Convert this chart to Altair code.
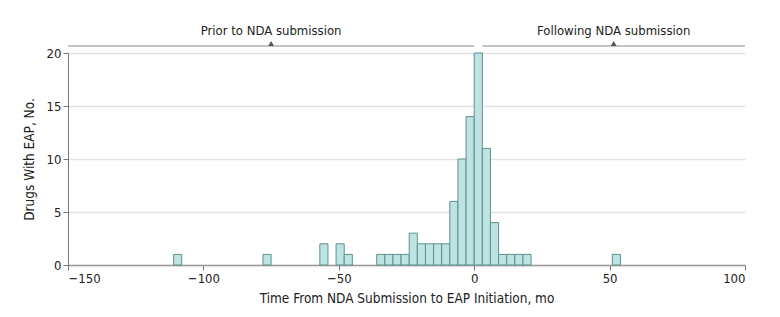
import altair as alt
import pandas as pd

# Histogram bins (3-month width): start of each bin and count of drugs
bin_start = [-111, -78, -57, -51, -48, -36, -33, -30, -27, -24, -21, -18, -15, -12,
             -9, -6, -3, 0, 3, 6, 9, 12, 15, 18, 51]
counts = [1, 1, 2, 2, 1, 1, 1, 1, 1, 3, 2, 2, 2, 2,
          6, 10, 14, 20, 11, 4, 1, 1, 1, 1, 1]
bin_width = 3

# Bracket annotation
seg_start = [-150, 3]
seg_end = [0, 100]
seg_label = ["Prior to NDA submission", "Following NDA submission"]

x_ticks = [-150, -100, -50, 0, 50, 100]
y_ticks = [0, 5, 10, 15, 20]

FONT = "DejaVu Sans Condensed, Open Sans, Noto Sans, sans-serif"

bars = pd.DataFrame({
    "start": bin_start,
    "end": [s + bin_width for s in bin_start],
    "count": counts,
    "base": [0] * len(counts),
})
segs = pd.DataFrame({
    "start": seg_start,
    "end": seg_end,
    "mid": [(a + b) / 2 for a, b in zip(seg_start, seg_end)],
    "label": seg_label,
})

xscale = alt.Scale(domain=[-150, 100], nice=False, zero=False)
yscale = alt.Scale(domain=[0, 20], nice=False)

bar = alt.Chart(bars).mark_bar(
    color="#bde4e2", stroke="#5f8f8d", strokeWidth=1
).encode(
    x=alt.X("start:Q", scale=xscale,
            axis=alt.Axis(values=x_ticks, title="Time From NDA Submission to EAP Initiation, mo",
                          grid=False, domainColor="#9a9a9a", domainWidth=1.5,
                          tickColor="#777", tickSize=5, labelPadding=2,
                          labelColor="#222", titleColor="#222", titlePadding=6)),
    x2="end:Q",
    y=alt.Y("count:Q", scale=yscale,
            axis=alt.Axis(values=y_ticks, title="Drugs With EAP, No.",
                          grid=True, gridColor="#e2e2e2", gridWidth=1.5,
                          domainColor="#777", tickColor="#777", tickSize=5,
                          labelPadding=2, labelColor="#222", titleColor="#222",
                          titlePadding=10)),
    y2="base:Q",
)

rule = alt.Chart(segs).mark_rule(color="#8a8a8a", strokeWidth=1.2).encode(
    x=alt.X("start:Q", scale=xscale),
    x2="end:Q",
    y=alt.value(-7),
)

tri = alt.Chart(segs).mark_point(
    shape="triangle-up", filled=True, color="#555", size=35, opacity=1
).encode(
    x=alt.X("mid:Q", scale=xscale),
    y=alt.value(-9.5),
)

txt = alt.Chart(segs).mark_text(
    font=FONT, fontSize=13, color="#222", baseline="middle"
).encode(
    x=alt.X("mid:Q", scale=xscale),
    y=alt.value(-22),
    text="label:N",
)

chart = alt.layer(bar, rule, tri, txt).properties(
    width=677, height=212,
    autosize=alt.AutoSizeParams(type="none"),
    padding={"left": 60, "top": 45, "right": 27, "bottom": 44},
).configure_view(stroke=None).configure_axis(
    labelFont=FONT, titleFont=FONT, labelFontSize=13, titleFontSize=13.5,
    titleFontWeight="normal",
)

chart.save("out.html", embed_options={"renderer": "svg", "actions": False})
